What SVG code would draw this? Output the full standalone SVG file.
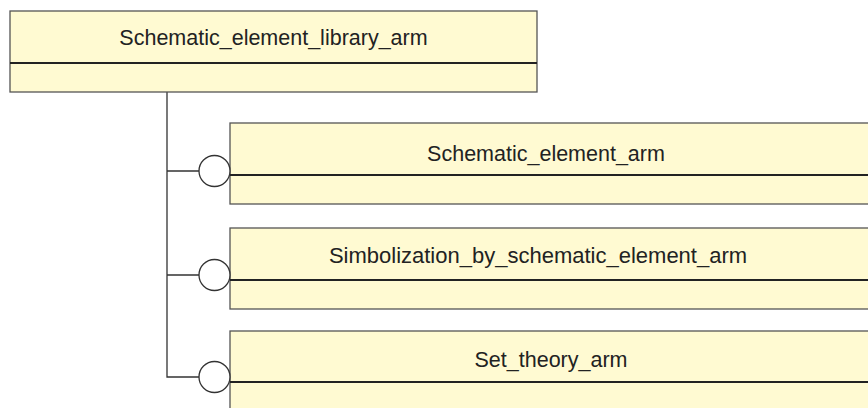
<svg xmlns="http://www.w3.org/2000/svg" width="868" height="408" viewBox="0 0 868 408">
<style>
.box{fill:#FFFAD2;stroke:#555;stroke-width:1.3}
.div{stroke:#222;stroke-width:1.8}
.lbl{font-family:"Liberation Sans",Arial,sans-serif;font-size:21.5px;fill:#222;text-anchor:middle}
.con{fill:none;stroke:#333;stroke-width:1.3}
.cir{fill:#fff;stroke:#333;stroke-width:1.3}
</style>
<rect width="868" height="408" fill="#fff"/>
<g id="connectors">
<path class="con" d="M167,92 V377 H199 M167,171 H199 M167,275 H199"/>
</g>
<g id="Schematic_element_library_arm">
<rect class="box" x="10" y="11" width="527" height="81"/>
<line class="div" x1="10" y1="63" x2="537" y2="63"/>
<text class="lbl" x="273.5" y="45">Schematic_element_library_arm</text>
</g>
<g id="Schematic_element_arm">
<rect class="box" x="230" y="123" width="660" height="81"/>
<line class="div" x1="230" y1="175" x2="868" y2="175"/>
<text class="lbl" x="546" y="161">Schematic_element_arm</text>
<circle class="cir" cx="214.5" cy="171" r="15.5"/>
</g>
<g id="Simbolization_by_schematic_element_arm">
<rect class="box" x="230" y="228" width="660" height="81"/>
<line class="div" x1="230" y1="280" x2="868" y2="280"/>
<text class="lbl" x="538" y="263" style="font-size:22px">Simbolization_by_schematic_element_arm</text>
<circle class="cir" cx="214.5" cy="275" r="15.5"/>
</g>
<g id="Set_theory_arm">
<rect class="box" x="230" y="331" width="660" height="90"/>
<line class="div" x1="230" y1="382" x2="868" y2="382"/>
<text class="lbl" x="551" y="367">Set_theory_arm</text>
<circle class="cir" cx="214.5" cy="377" r="15.5"/>
</g>
</svg>
